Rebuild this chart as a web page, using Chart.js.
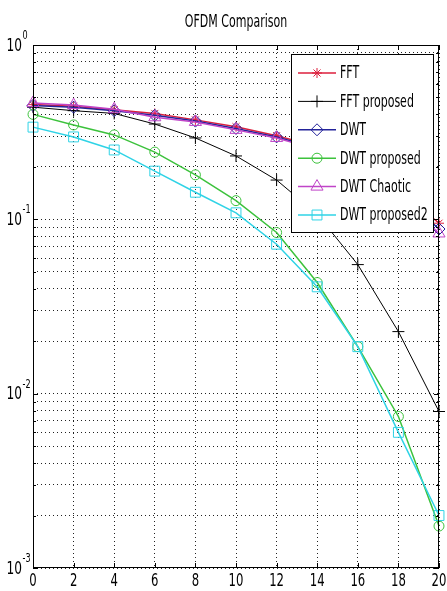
<!DOCTYPE html>
<html>
<head>
<meta charset="utf-8">
<script src="https://cdn.jsdelivr.net/npm/chart.js@4.4.1/dist/chart.umd.min.js"></script>
<style>
html, body { margin: 0; padding: 0; background: #fff; }
#chart { display: block; }
</style>
</head>
<body>
<canvas id="chart" width="447" height="591"></canvas>
<script>
const SNR_DB = [0, 2, 4, 6, 8, 10, 12, 14, 16, 18, 20];

const FFT           = [0.455, 0.445, 0.425, 0.405, 0.372, 0.340, 0.302, 0.262, 0.208, 0.150, 0.095];
const FFT_PROPOSED  = [0.440, 0.420, 0.405, 0.352, 0.293, 0.231, 0.168, 0.107, 0.055, 0.0227, 0.0079];
const DWT           = [0.450, 0.440, 0.420, 0.395, 0.366, 0.332, 0.297, 0.256, 0.202, 0.144, 0.088];
const DWT_PROPOSED  = [0.400, 0.348, 0.305, 0.243, 0.180, 0.128, 0.084, 0.0434, 0.0186, 0.0074, 0.00174];
const DWT_CHAOTIC   = [0.465, 0.452, 0.428, 0.385, 0.362, 0.326, 0.293, 0.252, 0.198, 0.140, 0.083];
const DWT_PROPOSED2 = [0.338, 0.297, 0.250, 0.189, 0.143, 0.109, 0.072, 0.041, 0.0186, 0.0060, 0.0020];

const SERIES_NAMES = ['FFT', 'FFT proposed', 'DWT', 'DWT proposed', 'DWT Chaotic', 'DWT proposed2'];
const SERIES_VALUES = [FFT, FFT_PROPOSED, DWT, DWT_PROPOSED, DWT_CHAOTIC, DWT_PROPOSED2];

const TITLE = 'OFDM Comparison';
const X_TICKS = [0, 2, 4, 6, 8, 10, 12, 14, 16, 18, 20];
const Y_DECADES = [1, 0.1, 0.01, 0.001];
const Y_EXPONENTS = ['0', '-1', '-2', '-3'];
const Y_MANTISSAS = [1, 2, 3, 4, 5, 6, 7, 8, 9];

const FONT = "'Liberation Sans Narrow', 'DejaVu Sans Condensed', 'Liberation Sans', sans-serif";

// marker / line look for each series (matlab style open markers)
const STYLES = [
  { color: '#dc1f3c', point: 'star',     radius: 5, width: 1.5 },
  { color: '#000000', point: 'cross',    radius: 6, width: 1 },
  { color: '#23239a', point: 'rectRot',  radius: 6, width: 1.5 },
  { color: '#3cc23c', point: 'circle',   radius: 5, width: 1.5 },
  { color: '#c044c8', point: 'triangle', radius: 7, width: 1.5 },
  { color: '#2fd3e6', point: 'rect',     radius: 7, width: 1.5 }
];

function buildDatasets(){
    return SERIES_VALUES.map(function(values, i){
        var st = STYLES[i];
        return {
            label: SERIES_NAMES[i],
            data: values.map((v, j) => ({ x: SNR_DB[j], y: v })),
            borderColor: st.color,
            borderWidth: st.width,
            pointStyle: st.point,
            pointRadius: st.radius,
            pointBorderColor: st.color,
            pointBackgroundColor: 'rgba(0,0,0,0)',
            pointBorderWidth: 1,
            fill: false,
            tension: 0,
            clip: false,
            order: SERIES_VALUES.length - i
        };
    });
}

// tall, narrow text like the matlab screenshot
function narrowText(ctx, text, x, y, size, squeeze, align){
    ctx.save();
    ctx.font = size + 'px ' + FONT;
    var w = ctx.measureText(text).width * squeeze;
    var left = align === 'center' ? x - w / 2 : (align === 'right' ? x - w : x);
    ctx.translate(left, y);
    ctx.scale(squeeze, 1);
    ctx.textAlign = 'left';
    ctx.fillText(text, 0, 0);
    ctx.restore();
}

const matlabLook = {
    id: 'matlabLook',
    afterDatasetsDraw(chart){
        // legend box inside the axes, on top of the lines
        const ctx = chart.ctx;
        const area = chart.chartArea;
        const bx = area.right - 148, by = area.top + 9, bw = 142, bh = 178;
        ctx.save();
        ctx.fillStyle = '#fff';
        ctx.fillRect(bx, by, bw, bh);
        ctx.strokeStyle = '#000';
        ctx.lineWidth = 1;
        ctx.strokeRect(bx + 0.5, by + 0.5, bw, bh);
        ctx.textBaseline = 'middle';
        SERIES_NAMES.forEach(function(name, i){
            var st = STYLES[i];
            var y = by + 19 + i * 28.4;
            ctx.strokeStyle = st.color;
            ctx.lineWidth = st.width;
            ctx.beginPath();
            ctx.moveTo(bx + 7, y);
            ctx.lineTo(bx + 45, y);
            ctx.stroke();
            ctx.fillStyle = 'rgba(0,0,0,0)';
            ctx.lineWidth = 1;
            Chart.helpers.drawPoint(ctx, {
                pointStyle: st.point, radius: st.radius, borderWidth: 1, rotation: 0
            }, bx + 26, y);
            ctx.fillStyle = '#000';
            narrowText(ctx, name, bx + 49, y + 1, 17, 0.72, 'left');
        });
        ctx.restore();
    },
    afterDraw(chart){
        const ctx = chart.ctx;
        const area = chart.chartArea;
        const xs = chart.scales.x, ys = chart.scales.y;
        ctx.save();
        ctx.strokeStyle = '#000';
        ctx.lineWidth = 1;
        ctx.strokeRect(Math.round(area.left) + 0.5, Math.round(area.top) + 0.5,
            Math.round(area.right - area.left) - 1, Math.round(area.bottom - area.top) - 1);
        ctx.beginPath();
        X_TICKS.forEach(function(t){
            var px = Math.round(xs.getPixelForValue(t)) + 0.5;
            ctx.moveTo(px, area.bottom); ctx.lineTo(px, area.bottom - 5);
            ctx.moveTo(px, area.top); ctx.lineTo(px, area.top + 5);
        });
        ys.ticks.forEach(function(t){
            var py = Math.round(ys.getPixelForValue(t.value)) + 0.5;
            var len = t.major ? 5 : 3;
            ctx.moveTo(area.left, py); ctx.lineTo(area.left + len, py);
            ctx.moveTo(area.right, py); ctx.lineTo(area.right - len, py);
        });
        ctx.stroke();

        ctx.fillStyle = '#000';
        ctx.textBaseline = 'middle';
        // title
        narrowText(ctx, TITLE, (area.left + area.right) / 2, 22, 18, 0.68, 'center');
        // x labels
        X_TICKS.forEach(function(t){
            narrowText(ctx, String(t), xs.getPixelForValue(t), area.bottom + 13, 18, 0.72, 'center');
        });
        // y labels as 10^n
        Y_DECADES.forEach(function(v, i){
            var py = ys.getPixelForValue(v);
            ctx.textBaseline = 'middle';
            narrowText(ctx, '10', 22, py + 1, 18, 0.75, 'right');
            ctx.textBaseline = 'alphabetic';
            narrowText(ctx, Y_EXPONENTS[i], 22.5, py - 6, 12, 0.75, 'left');
        });
        ctx.restore();
    }
};

var chart = new Chart(document.getElementById('chart'), {
    type: 'line',
    data: { datasets: buildDatasets() },
    plugins: [matlabLook],
    options: {
        responsive: false,
        animation: false,
        devicePixelRatio: 1,
        layout: { padding: { top: 45, right: 6, left: 0, bottom: 0 } },
        plugins: {
            legend: { display: false },
            tooltip: { enabled: false },
            title: { display: false }
        },
        scales: {
            x: {
                type: 'linear',
                min: 0,
                max: 20,
                afterBuildTicks: s => { s.ticks = X_TICKS.map(v => ({ value: v })); },
                afterFit: s => { s.height = 23; },
                ticks: { display: false },
                grid: { color: '#222', drawTicks: false, lineWidth: 1 },
                border: { display: false, dash: [1, 3] }
            },
            y: {
                type: 'logarithmic',
                min: 0.001,
                max: 1,
                afterBuildTicks: s => {
                    var ticks = [];
                    Y_DECADES.slice().reverse().forEach(function(d){
                        Y_MANTISSAS.forEach(function(m){
                            var v = d * m;
                            if (v <= 1.0000001) ticks.push({ value: v, major: m === 1 });
                        });
                    });
                    s.ticks = ticks;
                },
                afterFit: s => { s.width = 33; },
                ticks: { display: false, autoSkip: false },
                grid: { color: '#222', drawTicks: false, lineWidth: 1 },
                border: { display: false, dash: [1, 3] }
            }
        }
    }
});
</script>
</body>
</html>
